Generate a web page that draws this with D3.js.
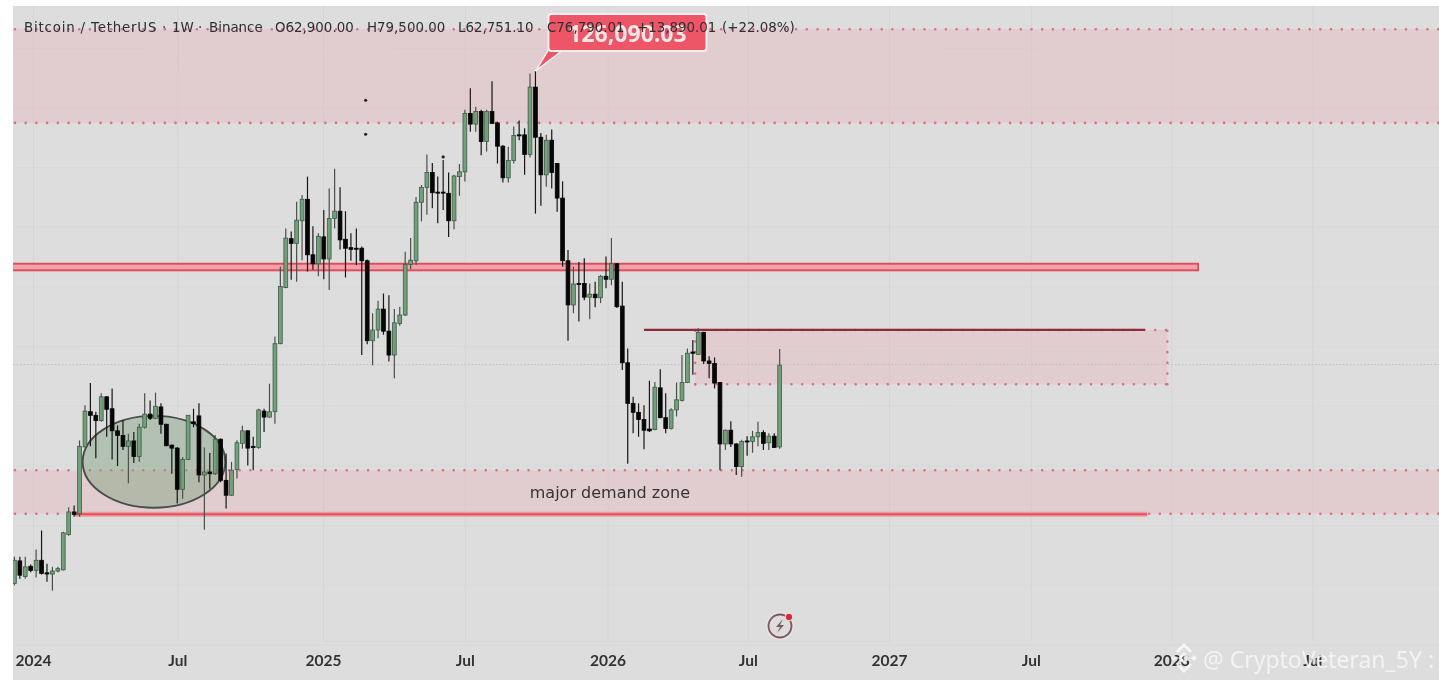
<!DOCTYPE html>
<html><head><meta charset="utf-8">
<script src="https://cdn.jsdelivr.net/npm/d3@7/dist/d3.min.js"></script>
<style>html,body{margin:0;padding:0;background:#fff;overflow:hidden}svg{display:block}</style>
</head><body><div id="c"></div>
<script>
// Weekly candles, thousands of USDT
const firstWeek = "2023-11-30";
const opens = [40.2,44.0,41.4,43.1,42.4,44.1,42.0,41.8,42.3,42.5,48.4,52.2,51.9,63.1,69.0,68.4,67.5,71.5,69.5,65.8,65.0,63.2,64.1,61.5,66.4,68.6,67.9,69.8,66.9,63.4,62.9,56.0,61.0,67.3,68.3,58.4,58.9,58.6,64.4,57.5,55.0,59.3,63.7,65.8,63.2,63.0,69.1,68.1,69.0,80.4,89.8,98.0,97.2,101.0,104.6,95.3,93.8,98.3,94.6,101.4,102.6,97.9,96.5,96.4,96.4,94.3,80.9,82.7,86.2,82.5,78.5,83.8,85.2,93.7,94.3,104.1,106.6,109.1,105.8,105.8,105.6,101.0,108.4,109.2,119.0,117.2,119.3,114.3,119.3,117.4,113.5,108.2,111.1,115.4,115.4,112.1,123.4,115.0,108.7,114.5,110.6,104.8,94.3,86.9,90.5,90.5,88.2,88.7,88.1,91.7,91.2,93.8,86.7,77.2,70.4,68.9,67.7,66.1,66.0,73.0,68.0,66.2,69.3,70.9,73.9,79.0,78.6,82.3,77.5,77.1,73.9,63.6,65.9,63.6,59.8,64.1,64.0,64.8,65.5,63.8,64.9,63.1];
const highs = [44.7,44.7,44.7,43.4,45.9,49.1,43.5,43.0,43.0,48.9,53.0,53.3,64.2,70.1,73.8,69.0,72.1,71.6,72.9,66.7,67.6,65.3,65.6,67.0,72.1,70.9,72.2,70.4,67.0,63.5,63.1,61.4,68.4,69.5,70.4,63.0,62.1,65.1,64.5,62.0,60.6,64.2,66.7,65.9,64.8,69.5,69.5,73.7,81.6,93.3,99.7,99.2,104.2,105.3,108.4,100.1,98.9,102.8,106.4,109.7,106.6,102.6,98.9,99.7,96.7,94.5,85.5,87.6,88.8,88.5,86.2,86.6,95.8,98.1,105.0,107.0,112.1,110.7,108.4,111.2,109.1,108.7,110.5,119.6,123.2,120.1,119.6,119.6,124.4,117.6,113.7,113.4,116.8,117.8,116.5,125.7,126.1,115.7,115.4,116.3,110.7,107.6,96.1,93.3,94.1,94.7,90.5,90.8,91.9,95.0,98.1,93.9,90.8,79.6,71.5,70.4,70.1,74.2,74.0,76.1,72.1,69.6,73.9,78.5,79.6,81.0,83.0,82.4,78.3,78.1,74.0,66.0,67.4,63.7,64.3,64.9,65.8,67.3,65.9,65.4,65.4,79.5];
const lows = [39.9,41.0,41.0,42.1,41.2,41.7,40.5,39.0,42.1,42.4,48.2,51.4,51.4,63.0,63.2,61.2,67.3,64.8,61.0,59.9,62.6,57.0,60.4,60.6,66.2,67.6,67.8,65.3,63.2,58.6,53.6,54.4,60.9,66.4,57.2,49.2,56.1,58.4,57.2,52.8,54.9,57.8,62.8,60.0,59.2,62.8,65.6,68.0,67.0,80.3,89.7,91.1,90.8,94.4,92.5,92.8,91.7,91.2,89.4,99.7,96.2,91.5,94.3,93.6,78.5,80.3,76.8,81.3,81.9,77.4,74.6,83.4,85.1,92.9,93.6,100.9,102.0,103.1,100.6,102.8,98.3,99.6,105.2,107.6,115.9,115.9,112.0,112.6,117.2,110.6,107.4,107.4,110.6,114.5,108.7,111.6,102.2,103.5,106.7,106.4,102.5,93.3,80.9,85.5,84.1,87.7,84.5,86.5,87.2,89.7,90.2,86.4,76.0,60.3,65.4,64.8,62.7,65.6,65.9,67.9,65.4,66.0,68.2,70.7,73.8,75.2,78.5,77.0,74.6,72.9,59.2,62.6,63.1,58.4,58.1,61.6,62.1,63.2,62.6,62.6,62.9,62.8];
const closes = [44.1,41.6,43.0,42.4,44.1,41.9,41.8,42.3,42.7,48.7,52.2,51.8,63.2,69.1,68.4,67.5,71.5,69.4,65.8,65.0,63.2,64.1,61.5,66.4,68.6,67.9,69.9,66.9,63.3,62.9,56.0,61.0,68.4,67.0,58.4,58.9,58.6,64.4,57.5,55.0,59.2,63.8,65.8,62.9,63.0,69.3,68.1,69.0,80.4,90.0,98.1,97.2,101.1,104.6,95.3,93.8,98.4,94.6,101.4,102.6,97.8,96.4,96.2,96.3,94.3,80.9,82.7,86.2,82.5,78.5,83.9,85.2,93.7,94.4,104.1,106.6,109.1,105.7,105.7,105.7,101.0,108.5,109.2,119.0,117.2,119.3,114.3,119.3,117.3,113.5,108.2,111.1,115.3,115.3,112.1,123.4,115.0,108.7,114.5,109.1,104.8,94.3,86.9,90.4,90.4,88.2,88.7,88.1,91.7,91.2,93.8,86.6,77.2,70.4,68.9,67.7,65.9,65.8,73.1,68.0,66.2,69.3,71.0,73.9,78.8,78.8,82.3,77.5,77.1,73.8,63.6,65.9,63.6,59.8,64.0,64.0,64.8,65.5,63.7,64.9,63.0,76.8];

const tickDates = ["2023-12-24","2024-06-27","2025-01-01","2025-07-03","2026-01-03","2026-07-03","2027-01-01","2027-07-03","2027-12-31","2028-06-30"];
const tickLabels = ["2024","Jul","2025","Jul","2026","Jul","2027","Jul","2028","Jul"];
const priceGrid = [130,120,110,100,90,80,70,60,50,40,30];

const supplyZone = [117.4,133.1];
const demandZone = [51.9,59.2];
const boxZone = {from:"2026-04-26",to:"2027-12-26",low:73.6,high:82.7};
const bandLevel = {price:93.25,to:"2028-02-05"};
const demandLine = {price:51.8,from:"2024-02-16",to:"2027-11-30"};
const resistLine = {price:82.7,from:"2026-02-19",to:"2027-11-27"};
const currentPrice = 76.9;
const consolidation = {from:"2024-02-26",to:"2024-08-28",low:52.9,high:68.3};
const strayDots = [["2025-02-25",121.2],["2025-02-25",115.5],["2025-06-05",111.7]];
const peak = {date:"2025-10-02",price:126.09,label:"126,090.03"};
const demandLabel = {date:"2026-01-06",price:54.6,text:"major demand zone"};
const headerParts = ["Bitcoin / TetherUS","·","1W","·","Binance","O62,900.00","H79,500.00","L62,751.10","C76,790.01","+13,890.01","(+22.08%)"];
const headerX = [24,162,172,198,209,275,367,458,547,637,722];

const W=1439,H=685,L=13,R=1439,T=6,B=680,AX=641;
const d=s=>new Date(s+"T00:00:00Z");
const x=d3.scaleTime().domain([d("2025-01-01"),d("2027-01-01")]).range([323,889]);
const y=d3.scaleLinear().domain([23.2,138]).range([685,0]);
const candles=opens.map((o,i)=>({date:d3.utcDay.offset(d(firstWeek),i*7),o,h:highs[i],l:lows[i],c:closes[i]}));

const svg=d3.select("#c").append("svg").attr("width",W).attr("height",H).attr("viewBox",[0,0,W,H]);
svg.append("rect").attr("width",W).attr("height",H).attr("fill","#fff");
svg.append("rect").attr("x",L).attr("y",T).attr("width",R-L).attr("height",B-T).attr("fill","#dddddd");
svg.append("clipPath").attr("id","panel").append("rect").attr("x",L).attr("y",T).attr("width",R-L).attr("height",B-T);
const root=svg.append("g").attr("clip-path","url(#panel)").append("g").style("filter","blur(0.5px)");

// grid
const gx=root.append("g").attr("transform",`translate(0,${AX})`)
 .call(d3.axisBottom(x).tickValues(tickDates.map(d)).tickSize(-(AX-T)).tickFormat(""));
gx.select(".domain").attr("stroke","#d6d6d6");
gx.selectAll("line").attr("stroke","#d5d5d5");
const gy=root.append("g").attr("transform",`translate(${L},0)`)
 .call(d3.axisRight(y).tickValues(priceGrid).tickSize(R-L).tickFormat(""));
gy.select(".domain").remove();
gy.selectAll("line").attr("stroke","#d8d8d8");

// zones
const zoneFill="#ef9ea6";
const zoneAlpha=.25;
const dot=(g,x1,y1,x2,y2)=>g.append("line").attr("x1",x1).attr("y1",y1).attr("x2",x2).attr("y2",y2)
 .attr("stroke","#d9707b").attr("stroke-width",2.6).attr("stroke-linecap","round").attr("stroke-dasharray","0 10.7");
[supplyZone,demandZone].forEach(z=>{
 root.append("rect").attr("x",L).attr("width",R-L).attr("y",y(z[1])).attr("height",y(z[0])-y(z[1])).attr("fill",zoneFill).attr("fill-opacity",zoneAlpha);
 dot(root,L+2,y(z[0]),R,y(z[0])); dot(root,L+2,y(z[1]),R,y(z[1]));
});
const bx0=x(d(boxZone.from)),bx1=x(d(boxZone.to));
root.append("rect").attr("x",bx0).attr("width",bx1-bx0).attr("y",y(boxZone.high)).attr("height",y(boxZone.low)-y(boxZone.high)).attr("fill",zoneFill).attr("fill-opacity",zoneAlpha);
dot(root,bx0,y(boxZone.low),bx1,y(boxZone.low));
dot(root,bx0,y(boxZone.high),bx1,y(boxZone.high));
dot(root,bx0,y(boxZone.low),bx0,y(boxZone.high));
dot(root,bx1,y(boxZone.low),bx1,y(boxZone.high));

// current price line
root.append("line").attr("x1",L).attr("x2",R).attr("y1",y(currentPrice)).attr("y2",y(currentPrice))
 .attr("stroke","#bfbfbf").attr("stroke-width",1).attr("stroke-dasharray","1.5 2");

// horizontal band and lines
const by=y(bandLevel.price),bxe=x(d(bandLevel.to));
root.append("rect").attr("x",L).attr("width",bxe-L).attr("y",by-5).attr("height",10).attr("fill","#f3a3ab").attr("fill-opacity",.7);
root.append("rect").attr("x",L-3).attr("width",bxe-L+2).attr("y",by-3.2).attr("height",6.4).attr("fill","#f4a0aa").attr("stroke","#d2525f").attr("stroke-width",1.7);
root.append("line").attr("x1",x(d(demandLine.from))).attr("x2",x(d(demandLine.to))).attr("y1",y(demandLine.price)).attr("y2",y(demandLine.price))
 .attr("stroke","#f09aa3").attr("stroke-width",5);
root.append("line").attr("x1",x(d(demandLine.from))).attr("x2",x(d(demandLine.to))).attr("y1",y(demandLine.price)).attr("y2",y(demandLine.price))
 .attr("stroke","#e0525f").attr("stroke-width",2);
root.append("line").attr("x1",x(d(resistLine.from))).attr("x2",x(d(resistLine.to))).attr("y1",y(resistLine.price)).attr("y2",y(resistLine.price))
 .attr("stroke","#8f2a38").attr("stroke-width",2.2);

// ellipse
const ex0=x(d(consolidation.from)),ex1=x(d(consolidation.to));
root.append("ellipse").attr("cx",(ex0+ex1)/2).attr("cy",(y(consolidation.low)+y(consolidation.high))/2)
 .attr("rx",(ex1-ex0)/2).attr("ry",(y(consolidation.low)-y(consolidation.high))/2)
 .attr("fill","#87a585").attr("fill-opacity",.5).attr("stroke","#484c49").attr("stroke-width",1.9);

// candles
const bw=3.8;
const cg=root.append("g").selectAll("g").data(candles).join("g");
cg.append("line").attr("x1",c=>x(c.date)).attr("x2",c=>x(c.date)).attr("y1",c=>y(c.h)).attr("y2",c=>y(c.l))
 .attr("stroke",c=>c.c>=c.o?"#4a4f4a":"#161616").attr("stroke-width",1.2);
cg.append("rect").attr("x",c=>x(c.date)-bw/2).attr("width",bw)
 .attr("y",c=>y(Math.max(c.o,c.c))).attr("height",c=>Math.max(1,Math.abs(y(c.o)-y(c.c))))
 .attr("fill",c=>c.c>=c.o?"#72a07b":"#060606")
 .attr("stroke",c=>c.c>=c.o?"#3d5c45":"#060606").attr("stroke-width",.8);

// stray dots
root.append("g").selectAll("circle").data(strayDots).join("circle")
 .attr("cx",p=>x(d(p[0]))).attr("cy",p=>y(p[1])).attr("r",1.6).attr("fill","#222");

// x labels
const axisG=root.append("g").attr("transform",`translate(0,${AX})`)
 .call(d3.axisBottom(x).tickValues(tickDates.map(d)).tickSize(0).tickPadding(14).tickFormat((_,i)=>tickLabels[i]));
axisG.select(".domain").remove();
axisG.selectAll("text").attr("fill","#333").attr("font-family","Lato,'Noto Sans',sans-serif").attr("font-size",15.5).attr("font-weight",700);

// demand label
root.append("text").attr("x",x(d(demandLabel.date))).attr("y",y(demandLabel.price)).attr("text-anchor","middle")
 .attr("font-family","'DejaVu Sans',sans-serif").attr("font-size",16).attr("fill","#333").text(demandLabel.text);

// peak callout
const px=x(d(peak.date)),py=y(peak.price);
root.append("path").attr("d",`M${px},${py} L${px+14},${py-23} L${px+30},${py-23} Z`).attr("fill","#ee5566").attr("stroke","#f6eeee").attr("stroke-width",1.6);
root.append("rect").attr("x",px+13).attr("y",py-57).attr("width",158).attr("height",37).attr("rx",3).attr("fill","#ee5566").attr("stroke","#f6eeee").attr("stroke-width",2);
root.append("text").attr("x",px+92).attr("y",py-29).attr("text-anchor","middle").attr("font-family","'Noto Sans',sans-serif").attr("font-weight",700).attr("font-size",23).attr("fill","#f9e6e8").text(peak.label);

// header
root.append("g").selectAll("text").data(headerParts).join("text")
 .attr("x",(_,i)=>headerX[i]).attr("y",32).attr("font-family","'DejaVu Sans',sans-serif").attr("font-size",13.4)
 .attr("letter-spacing",(_,i)=>i===0?.8:0).attr("fill","#2f2f2f").text(t=>t);

// lightning icon
const ic=root.append("g").attr("transform","translate(780,626)");
ic.append("circle").attr("r",14).attr("fill","#e9e2e3");
ic.append("circle").attr("r",11.5).attr("fill","#dedcdc").attr("stroke","#7a5a60").attr("stroke-width",1.8);
ic.append("path").attr("d","M3,-7 L-4,1 L0,1 L-3,7 L4,-1 L0,-1 Z").attr("fill","#7a5a60");
ic.append("circle").attr("cx",9).attr("cy",-9).attr("r",3.8).attr("fill","#d8283c").attr("stroke","#f3e4e6").attr("stroke-width",1);

// watermark
const wm=svg.append("g").attr("opacity",.85);
const dm=wm.append("g").attr("transform","translate(1184,658)").attr("fill","none").attr("stroke","#fbfbfb").attr("stroke-width",2.8);
dm.append("path").attr("d","M-7,-6 L0,-13 L7,-6 M-7,6 L0,13 L7,6 M-4,0 L0,-4 L4,0 L0,4 Z");
wm.append("path").attr("d","M1174,655 L1177,658 L1174,661 L1171,658 Z M1194,655 L1197,658 L1194,661 L1191,658 Z").attr("fill","#fbfbfb");
wm.append("text").attr("x",1203).attr("y",668).attr("font-family","'Noto Sans',sans-serif").attr("font-size",23).attr("fill","#f7f7f7").text("@ CryptoVeteran_5Y :");
</script></body></html>
